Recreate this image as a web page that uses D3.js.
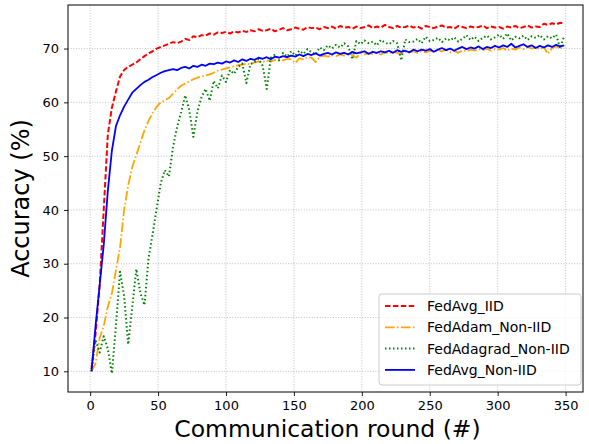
<!DOCTYPE html>
<html>
<head>
<meta charset="utf-8">
<script src="https://cdn.jsdelivr.net/npm/d3@7"></script>
<style>
  body { margin: 0; background: #fff; }
  svg { font-family: "DejaVu Sans", sans-serif; }
</style>
</head>
<body>
<div class="chart"></div>
<script>
// rounds sampled every 3 communication rounds (1, 4, 7, ... 349)
const rounds = d3.range(1, 351, 3);
const xTicks = [0, 50, 100, 150, 200, 250, 300, 350];
const yTicks = [10, 20, 30, 40, 50, 60, 70];

const fedAvgIID = [
  10.5, 17, 26, 40, 54, 59, 62, 64.8, 66, 66.6,
  67.0, 67.4, 68.0, 68.6, 69.1, 69.5, 70, 70.3, 70.6, 70.9,
  71.2, 71.0, 71.3, 71.8, 71.6, 72.3, 72.1, 72.5, 72.4, 72.8,
  72.6, 73, 72.9, 73.1, 72.8, 73.2, 73.0, 73.3, 73.1, 73.4,
  73.2, 73.6, 73.3, 73.4, 73.7, 73.2, 73.5, 73.8, 73.4, 73.6,
  73.9, 73.7, 73.5, 74.0, 73.8, 73.9, 73.6, 74.0, 73.8, 74.1,
  73.7, 74.2, 73.9, 74.0, 73.7, 74.1, 73.8, 74.0, 74.3, 73.8,
  74.1, 73.9, 74.4, 74.0, 73.8, 74.2, 73.9, 74.0, 74.3, 73.9,
  74.1, 73.7, 74.2, 74.0, 73.8, 74.1, 74.3, 73.9, 74.0, 73.7,
  74.2, 74.0, 73.8, 74.1, 73.9, 74.0, 74.3, 73.8, 74.1, 73.9,
  74.0, 73.7, 74.1, 73.9, 74.2, 73.8, 74.0, 74.3, 73.9, 74.1,
  74.0, 74.6, 74.4, 74.7, 74.5, 74.8, 74.6
];

const fedAdamNonIID = [
  10, 11.5, 16.2, 18.4, 22, 24.5, 28.8, 33, 40, 44.5,
  48, 50.2, 52.5, 54.8, 56.6, 58, 59.2, 60, 60.4, 60.8,
  61.6, 62.4, 63.1, 63.5, 63.9, 64.3, 64.6, 64.8, 65, 65.2,
  65.5, 65.9, 66.1, 66.3, 66.5, 66.7, 66.9, 67.0, 67.2, 67.1,
  67.4, 67.6, 67.5, 67.8, 67.6, 67.9, 68.0, 67.8, 68.1, 68.0,
  67.3, 68.2, 68.0, 68.4, 68.3, 67.5, 68.5, 68.7, 68.5, 68.8,
  68.6, 68.9, 68.7, 69.0, 68.8, 68.3, 69.1, 68.9, 69.2, 69.0,
  69.2, 68.9, 69.3, 69.1, 69.4, 69.2, 69.0, 69.4, 69.3, 69.5,
  69.2, 69.5, 69.3, 69.6, 69.4, 69.7, 69.5, 69.8, 69.3, 69.6,
  69.2, 69.7, 69.5, 69.8, 69.6, 69.9, 69.7, 70.0, 69.6, 69.9,
  69.8, 70.1, 69.6, 70.0, 69.8, 70.2, 69.9, 70.3, 70.0, 70.2,
  69.9, 70.3, 69.0, 70.1, 70.4, 70.0, 70.3
];

const fedAdagradNonIID = [
  10, 15.8, 13.5, 16.5, 14.2, 9.6, 18.5, 28.5, 24, 15,
  22, 29, 24.5, 22.3, 31, 35.5, 40.3, 45, 47.4, 46.2,
  51.7, 55.4, 58.2, 61.3, 58.5, 53.6, 58.3, 61, 62.5, 60.3,
  64, 62.6, 65, 63.8, 66, 65.3, 66.6, 67.2, 63.6, 67.1,
  67.5, 68.1, 66.8, 62.5, 68.3, 68.9, 67.8, 69.2, 68.5, 69.5,
  68.7, 69.6, 69.0, 69.9, 69.3, 68.9, 70.2, 69.7, 70.6, 70.0,
  70.7, 70.2, 71.0, 70.4, 68.0, 71.4, 70.8, 71.5, 71.0, 71.3,
  70.6, 71.6, 71.1, 70.8, 71.4, 71.0, 67.8, 71.7, 71.2, 71.3,
  71.8, 71.0, 72.2, 71.4, 71.6, 72.0, 71.2, 71.9, 71.5, 72.1,
  71.3, 71.8, 72.5, 71.6, 72.2, 71.4, 72.0, 72.4, 71.7, 72.1,
  72.6, 71.8, 72.8, 71.5, 72.2, 71.9, 72.4, 71.6, 72.3, 72.0,
  72.5, 71.7, 72.3, 71.9, 72.6, 70.0, 72.4
];

const fedAvgNonIID = [
  10, 18.5, 26, 33.5, 43.5, 51, 55.6, 57.6, 59.2, 60.5,
  61.8, 62.5, 63.2, 63.8, 64.2, 64.7, 65.1, 65.5, 65.8, 66.0,
  66.2, 66.0, 66.4, 66.6, 66.3, 66.8, 66.6, 67.0, 66.8, 67.2,
  67.1, 67.4, 67.2, 67.6, 67.4, 67.8, 67.5, 68.0, 67.7, 68.1,
  67.9, 68.3, 68.1, 68.4, 68.0, 68.5, 68.3, 68.6, 68.4, 68.7,
  68.5, 68.9, 68.6, 69.0, 68.8, 69.1, 68.7, 69.0, 69.2, 68.9,
  69.3, 69.0, 69.2, 68.9, 69.4, 69.1, 69.3, 69.5, 69.0, 69.4,
  69.2, 69.5, 69.3, 69.6, 69.2, 69.7, 69.4, 69.6, 69.3, 69.8,
  69.5, 69.8, 69.6, 69.9, 69.4, 69.8, 70.1, 69.7, 70.0, 69.6,
  70.0, 70.3, 69.9, 70.2, 70.0, 70.4, 69.9, 70.3, 70.1, 70.5,
  70.2, 70.6, 70.3, 70.9, 70.2, 70.5, 70.8, 70.3, 70.6, 70.1,
  70.5, 70.2, 70.6, 70.3, 70.7, 70.4, 70.6
];

const series = [
  {name: "FedAvg_IID", values: fedAvgIID, color: "#ff0000", dash: "5.5,2.4", width: 2},
  {name: "FedAdam_Non-IID", values: fedAdamNonIID, color: "#ffa500", dash: "9.6,2.4,1.5,2.4", width: 1.8},
  {name: "FedAdagrad_Non-IID", values: fedAdagradNonIID, color: "#008000", dash: "1.5,2.5", width: 2},
  {name: "FedAvg_Non-IID", values: fedAvgNonIID, color: "#0000ff", dash: null, width: 1.8}
];

const wdth = 589, hght = 444;
const plot = {left: 68, right: 583, top: 5, bottom: 392};

const svg = d3.select(".chart")
  .append("svg")
  .attr("width", wdth)
  .attr("height", hght);

const x = d3.scaleLinear().domain([-16.3, 362.8]).range([plot.left, plot.right]);
const y = d3.scaleLinear().domain([6.15, 78.1]).range([plot.bottom, plot.top]);

// grid
const grid = svg.append("g").attr("class", "grid");
grid.selectAll("line.gx")
  .data(xTicks)
  .enter().append("line")
  .attr("x1", d => x(d)).attr("x2", d => x(d))
  .attr("y1", plot.top).attr("y2", plot.bottom)
  .attr("stroke", "#b0b0b0").attr("stroke-width", 0.8)
  .attr("stroke-dasharray", "1,1.65");
grid.selectAll("line.gy")
  .data(yTicks)
  .enter().append("line")
  .attr("y1", d => y(d)).attr("y2", d => y(d))
  .attr("x1", plot.left).attr("x2", plot.right)
  .attr("stroke", "#b0b0b0").attr("stroke-width", 0.8)
  .attr("stroke-dasharray", "1,1.65");

// lines
const line = d3.line()
  .x((d, i) => x(rounds[i]))
  .y(d => y(d));

svg.append("clipPath").attr("id", "clip")
  .append("rect")
  .attr("x", plot.left).attr("y", plot.top)
  .attr("width", plot.right - plot.left).attr("height", plot.bottom - plot.top);

svg.append("g")
  .attr("clip-path", "url(#clip)")
  .selectAll("path.series")
  .data(series)
  .enter().append("path")
  .attr("class", "series")
  .attr("fill", "none")
  .attr("stroke", d => d.color)
  .attr("stroke-width", d => d.width)
  .attr("stroke-dasharray", d => d.dash)
  .attr("stroke-linejoin", "round")
  .attr("d", d => line(d.values));

// axes
const xAxis = svg.append("g")
  .attr("transform", "translate(0," + plot.bottom + ")")
  .call(d3.axisBottom(x).tickValues(xTicks).tickSize(4).tickPadding(5));
const yAxis = svg.append("g")
  .attr("transform", "translate(" + plot.left + ",0)")
  .call(d3.axisLeft(y).tickValues(yTicks).tickSize(4).tickPadding(5));
[xAxis, yAxis].forEach(a => {
  a.select(".domain").remove();
  a.selectAll("text").attr("font-size", 13).attr("fill", "#000")
    .attr("font-family", "DejaVu Sans, sans-serif");
  a.selectAll("line").attr("stroke", "#000").attr("stroke-width", 0.9);
});

svg.append("rect")
  .attr("x", plot.left).attr("y", plot.top)
  .attr("width", plot.right - plot.left).attr("height", plot.bottom - plot.top)
  .attr("fill", "none").attr("stroke", "#000").attr("stroke-width", 1);

// axis titles
svg.append("text")
  .attr("x", (plot.left + plot.right) / 2 + 2)
  .attr("y", 437)
  .attr("text-anchor", "middle")
  .attr("font-size", 23.5)
  .text("Communication round (#)");
svg.append("text")
  .attr("transform", "translate(29," + (plot.top + plot.bottom) / 2 + ") rotate(-90)")
  .attr("text-anchor", "middle")
  .attr("font-size", 24)
  .text("Accuracy (%)");

// legend
const legend = svg.append("g").attr("transform", "translate(379,294)");
legend.append("rect")
  .attr("width", 202).attr("height", 91)
  .attr("rx", 3).attr("ry", 3)
  .attr("fill", "#fff").attr("fill-opacity", 0.8)
  .attr("stroke", "#cccccc").attr("stroke-width", 1);
const item = legend.selectAll("g.item")
  .data(series)
  .enter().append("g")
  .attr("class", "item")
  .attr("transform", (d, i) => "translate(0," + (12 + i * 21.3) + ")");
item.append("line")
  .attr("x1", 6).attr("x2", 36)
  .attr("stroke", d => d.color)
  .attr("stroke-width", d => d.width)
  .attr("stroke-dasharray", d => d.dash);
item.append("text")
  .attr("x", 48).attr("y", 5)
  .attr("font-size", 14)
  .text(d => d.name);
</script>
</body>
</html>
